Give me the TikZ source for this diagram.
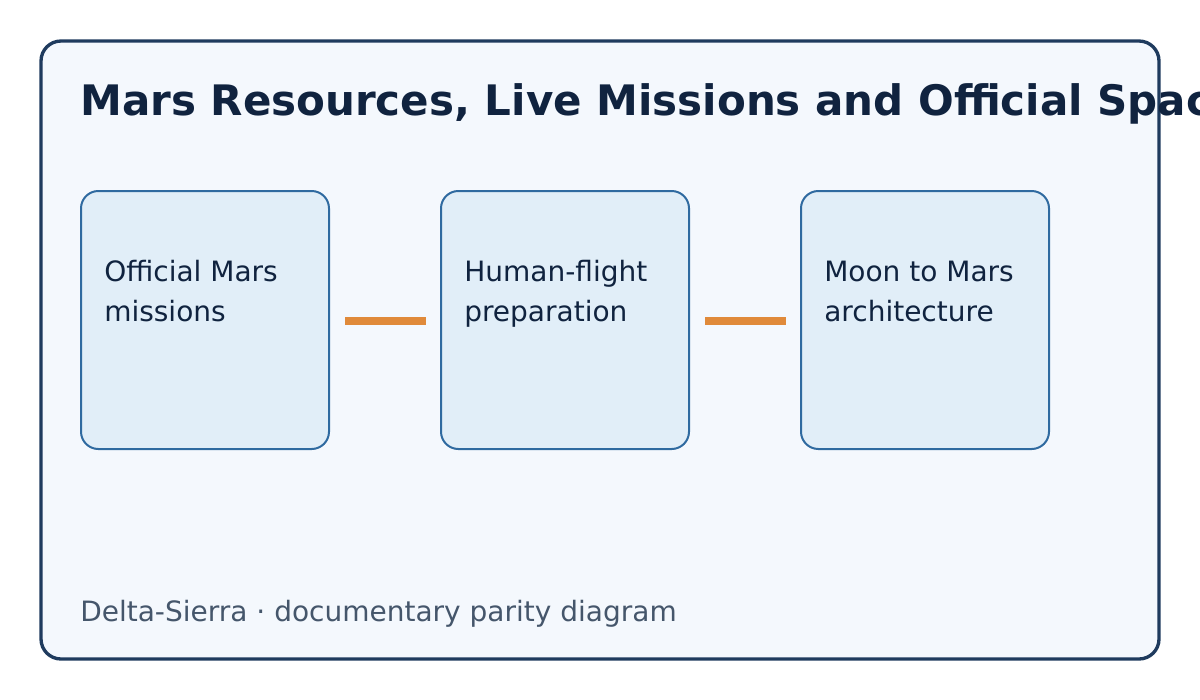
\documentclass[tikz,border=0pt]{standalone}
\usepackage{fontspec}
\setmainfont{DejaVu Sans}
\usetikzlibrary{positioning}
\definecolor{framec}{HTML}{1F3B5E}
\definecolor{pagebg}{HTML}{F4F8FD}
\definecolor{boxfill}{HTML}{E1EEF8}
\definecolor{boxline}{HTML}{2F6AA0}
\definecolor{titlec}{HTML}{10233F}
\definecolor{linkc}{HTML}{E08A3A}
\definecolor{footc}{HTML}{45566B}
\begin{document}
\begin{tikzpicture}
[x=0.75pt,y=-0.75pt, stage node/.style={rectangle,draw=boxline,fill=boxfill,line width=1.5pt,
    rounded corners=13pt,minimum width=186pt,minimum height=193.5pt, inner sep=0pt, outer sep=0pt},
  label node/.style={anchor=base west,inner sep=0pt,text=titlec,font=\fontsize{21}{30}\selectfont,
    align=left},
  link/.style={draw=linkc,line width=6pt,shorten <=12pt,shorten >=11pt}]
    \useasboundingbox (0,0) rectangle (1200,700);
    \draw[framec,fill=pagebg,line width=2.5pt,rounded corners=15pt] (41,41) rectangle (1159,659);
    \node [anchor=base west,inner sep=0pt,text=titlec,font=\fontsize{31.5}{36}\selectfont\bfseries] (title) at (80,115)
        {Mars Resources, Live Missions and Official Space Programs};

    \node [stage node] (s1) at (205,320) {};
    \node [stage node] (s2) at (565,320) {};
    \node [stage node] (s3) at (925,320) {};

    \node [label node] (t1) at (104,321) {Official Mars\\missions};
    \node [label node] (t2) at (464,321) {Human-flight\\preparation};
    \node [label node] (t3) at (824,321) {Moon to Mars\\architecture};

    \draw[link] (s1.east |- 0,321) -- (s2.west |- 0,321);
    \draw[link] (s2.east |- 0,321) -- (s3.west |- 0,321);

    \node [anchor=base west,inner sep=0pt,text=footc,font=\fontsize{21}{24}\selectfont] (foot) at (80,621)
        {Delta-Sierra · documentary parity diagram};
\end{tikzpicture}
\end{document}
